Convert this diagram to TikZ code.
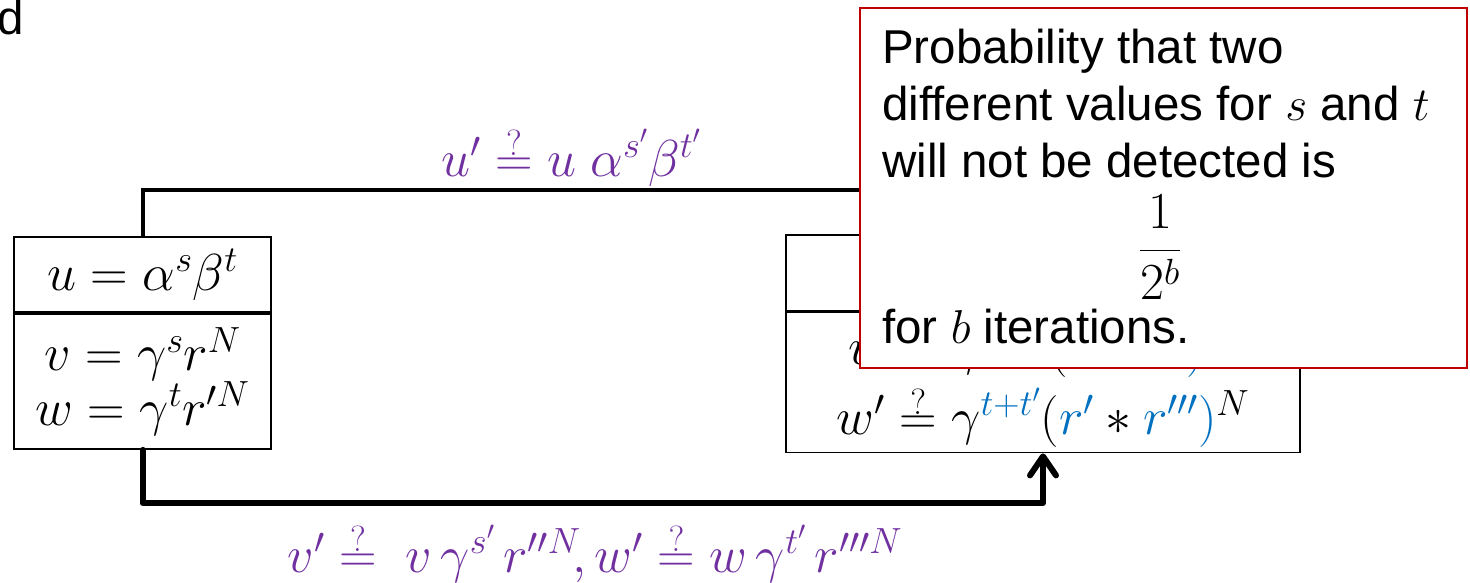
\RequirePackage{fix-cm}
\documentclass[tikz,border=0pt]{standalone}
\usepackage{fontspec}
\newfontfamily\arialfont{Liberation Sans}
\usetikzlibrary{arrows.meta}
\definecolor{ppurple}{HTML}{7030A0}
\definecolor{pblue}{HTML}{0070C0}
\definecolor{pred}{HTML}{C00000}
\newcommand{\qeq}{\stackrel{?}{=}}
\begin{document}
\begin{tikzpicture}[x=1pt,y=-1pt,
  mathtxt/.style={font=\fontsize{52}{60}\selectfont, inner sep=0pt},
  boxpart/.style={draw, line width=1.8pt, fill=white, inner sep=0pt, align=center, font=\fontsize{52}{53}\selectfont},
  conn/.style={line width=4pt},
  connthick/.style={line width=6pt, line cap=round, line join=round},
  notebox/.style={draw=pred, line width=2pt, fill=white},
  notetxt/.style={font=\arialfont\fontsize{47.5}{56}\selectfont, inner sep=0pt, anchor=base west},
  purplelab/.style={mathtxt, text=ppurple}]
\useasboundingbox (0,0) rectangle (1470,583);

% corner label
\node[notetxt] (dlab) at (-3,35) {d};

% left box
\node[boxpart, minimum width=257pt, minimum height=75pt] (lt) at (142.5,274.5) {$u=\alpha^{s}\beta^{t}$};
\node[boxpart, minimum width=257pt, minimum height=135pt] (lb) at (142.5,381.5)
  {$v=\gamma^{s}r^{N}$\\ $w=\gamma^{t}r'^{N}$};

% right box
\node[boxpart, minimum width=514pt, minimum height=76pt] (rt) at (1043,273) {};
\node[boxpart, minimum width=514pt, minimum height=140pt] (rb) at (1043,382.5)
  {$v'\qeq\gamma^{\textcolor{pblue}{s+s'}}(\textcolor{pblue}{r}*\textcolor{pblue}{r''}\textcolor{pblue}{)}^{N}$\\[10pt]
   $w'\qeq\gamma^{\textcolor{pblue}{t+t'}}(\textcolor{pblue}{r'}*\textcolor{pblue}{r'''}\textcolor{pblue}{)}^{N}$};

% connectors
\coordinate (topturn) at (142.5,190);
\draw[conn] (lt.north) -- (topturn) -| (rt.north);
\coordinate (botturn) at (142.5,503);
\draw[connthick, -{Straight Barb[length=19pt,width=26pt,line cap=round,line join=round]}]
  (lb.south) -- (botturn) -| (rb.south);

% connector labels
\node[purplelab, anchor=base] (labtop) at (571,176) {$u'\qeq u\;\alpha^{s'}\beta^{t'}$};
\node[purplelab, anchor=base] (labbot) at (595,572)
  {$v'\qeq\;v\,\gamma^{s'}\,r''^{N}\!,w'\qeq w\,\gamma^{t'}\,r'''^{N}$};

% note box
\node[notebox, minimum width=607pt, minimum height=360pt] (note) at (1163.5,188) {};
\node[notetxt] (n1) at (882,64) {Probability that two};
\node[notetxt] (n2) at (882,121) {different values for $s$ and $t$};
\node[notetxt] (n3) at (882,177) {will not be detected is};
\node[mathtxt] (n4) at (1160,247) {$\displaystyle\frac{1}{2^{b}}$};
\node[notetxt] (n5) at (882,343) {for $b$ iterations.};
\end{tikzpicture}
\end{document}
